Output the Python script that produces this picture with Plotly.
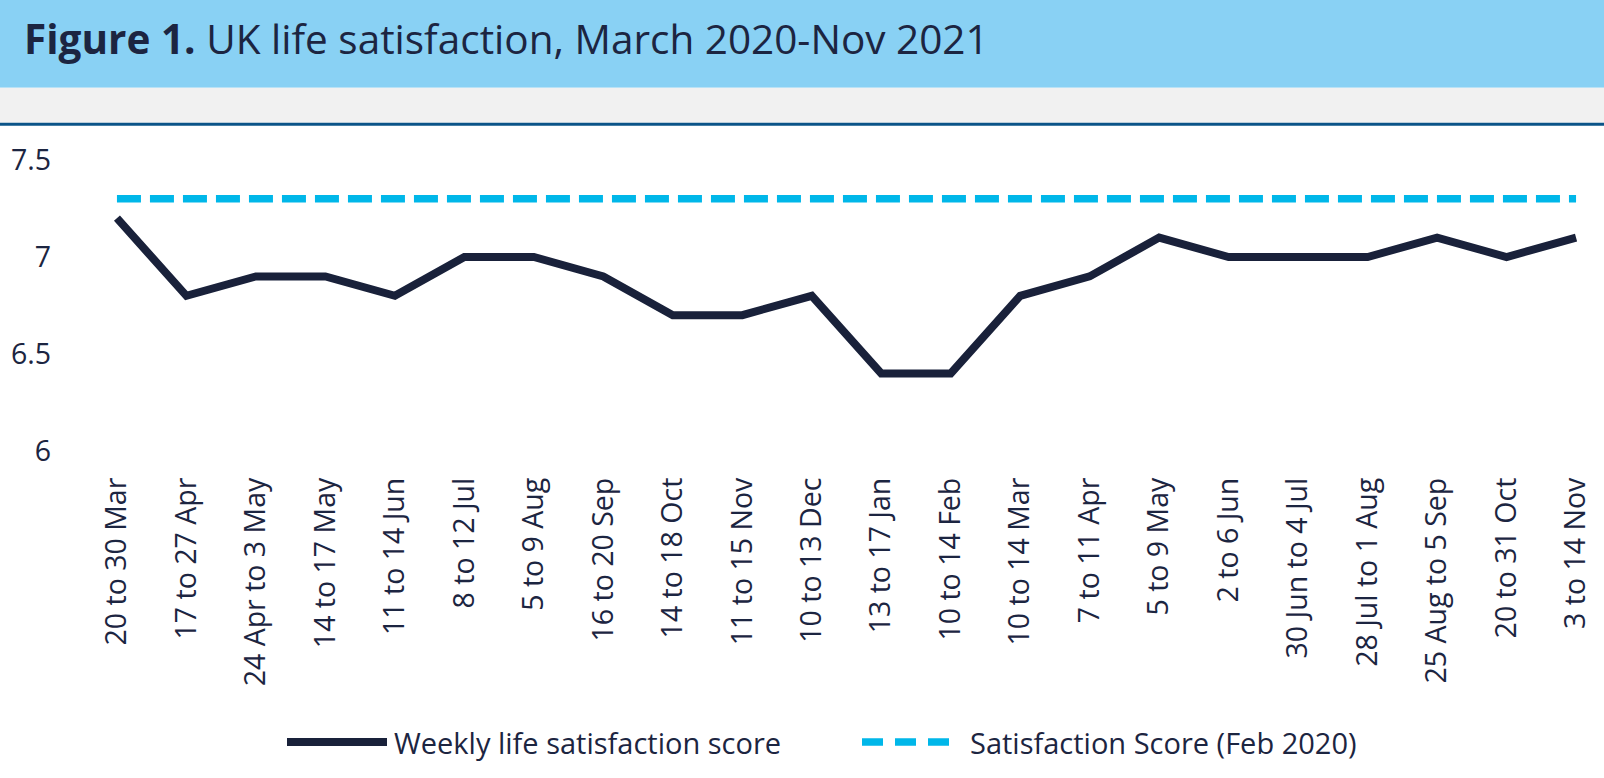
import plotly.graph_objects as go

# ---- data ----
categories = [
    "20 to 30 Mar", "17 to 27 Apr", "24 Apr to 3 May", "14 to 17 May", "11 to 14 Jun",
    "8 to 12 Jul", "5 to 9 Aug", "16 to 20 Sep", "14 to 18 Oct", "11 to 15 Nov",
    "10 to 13 Dec", "13 to 17 Jan", "10 to 14 Feb", "10 to 14 Mar", "7 to 11 Apr",
    "5 to 9 May", "2 to 6 Jun", "30 Jun to 4 Jul", "28 Jul to 1 Aug", "25 Aug to 5 Sep",
    "20 to 31 Oct", "3 to 14 Nov",
]
weekly_scores = [7.2, 6.8, 6.9, 6.9, 6.8, 7.0, 7.0, 6.9, 6.7, 6.7, 6.8,
                 6.4, 6.4, 6.8, 6.9, 7.1, 7.0, 7.0, 7.0, 7.1, 7.0, 7.1]
baseline_value = 7.3
baseline_scores = [baseline_value] * len(categories)
y_ticks = [6, 6.5, 7, 7.5]
y_tick_labels = ["6", "6.5", "7", "7.5"]

series_names = ["Weekly life satisfaction score", "Satisfaction Score (Feb 2020)"]
title_bold = "Figure 1."
title_rest = "UK life satisfaction, March 2020-Nov 2021"

# ---- styling ----
NAVY = "#19213a"
TEXT = "#1c2541"
CYAN = "#00b7e9"
FONT = "Open Sans"

W, H = 1604, 778
ML, MR, MT, MB = 110, 21, 160, 327
PW, PH = W - ML - MR, H - MT - MB


def px2x(px):
    return (px - ML) / PW


def py2y(py):
    return (H - MB - py) / PH


x_idx = list(range(len(categories)))

fig = go.Figure()
fig.add_trace(go.Scatter(
    x=x_idx, y=weekly_scores, mode="lines", name=series_names[0],
    line=dict(color=NAVY, width=8), showlegend=False,
))
fig.add_trace(go.Scatter(
    x=x_idx, y=baseline_scores, mode="lines", name=series_names[1],
    line=dict(color=CYAN, width=7.5, dash="24px,9px"), showlegend=False,
))

shapes = [
    # header band
    dict(type="rect", xref="paper", yref="paper", x0=px2x(0), x1=px2x(W),
         y0=py2y(0), y1=py2y(87.7), fillcolor="#89d1f4", line=dict(width=0), layer="below"),
    dict(type="rect", xref="paper", yref="paper", x0=px2x(0), x1=px2x(W),
         y0=py2y(87.7), y1=py2y(122.7), fillcolor="#f1f1f1", line=dict(width=0), layer="below"),
    dict(type="rect", xref="paper", yref="paper", x0=px2x(0), x1=px2x(W),
         y0=py2y(122.7), y1=py2y(125.7), fillcolor="#0b5488", line=dict(width=0), layer="below"),
    # legend swatches
    dict(type="line", xref="paper", yref="paper", x0=px2x(287), x1=px2x(387),
         y0=py2y(742), y1=py2y(742), line=dict(color=NAVY, width=8)),
    dict(type="line", xref="paper", yref="paper", x0=px2x(862), x1=px2x(953),
         y0=py2y(742), y1=py2y(742), line=dict(color=CYAN, width=7.5, dash="21px,12px")),
]

annotations = [
    dict(xref="paper", yref="paper", x=px2x(22), y=py2y(39), xanchor="left", yanchor="middle",
         text=f"<b>{title_bold}</b> {title_rest}", showarrow=False,
         font=dict(family=FONT, size=40.5, color=TEXT)),
    dict(xref="paper", yref="paper", x=px2x(392), y=py2y(742), xanchor="left", yanchor="middle",
         text=series_names[0], showarrow=False, font=dict(family=FONT, size=29, color=TEXT)),
    dict(xref="paper", yref="paper", x=px2x(968), y=py2y(742), xanchor="left", yanchor="middle",
         text=series_names[1], showarrow=False, font=dict(family=FONT, size=29, color=TEXT)),
]

fig.update_layout(
    width=W, height=H,
    margin=dict(l=ML, r=MR, t=MT, b=MB, autoexpand=False),
    paper_bgcolor="white", plot_bgcolor="white",
    showlegend=False,
    shapes=shapes, annotations=annotations,
    font=dict(family=FONT, color=TEXT),
    xaxis=dict(
        range=[-0.1, len(categories) - 1 + 0.1],
        tickmode="array", tickvals=x_idx, ticktext=categories,
        tickangle=-90, tickfont=dict(family=FONT, size=28.5, color=TEXT),
        showgrid=False, zeroline=False, showline=False, ticks="",
        ticklabelstandoff=20,
    ),
    yaxis=dict(
        range=[6, 7.5], tickmode="array", tickvals=y_ticks, ticktext=y_tick_labels,
        tickfont=dict(family=FONT, size=28.5, color=TEXT),
        showgrid=False, zeroline=False, showline=False, ticks="",
        ticklabelstandoff=58,
    ),
)

fig.write_html(
    "out.html",
    config={"displayModeBar": False},
    post_script="document.body.style.margin='0';document.body.style.overflow='hidden';",
)
